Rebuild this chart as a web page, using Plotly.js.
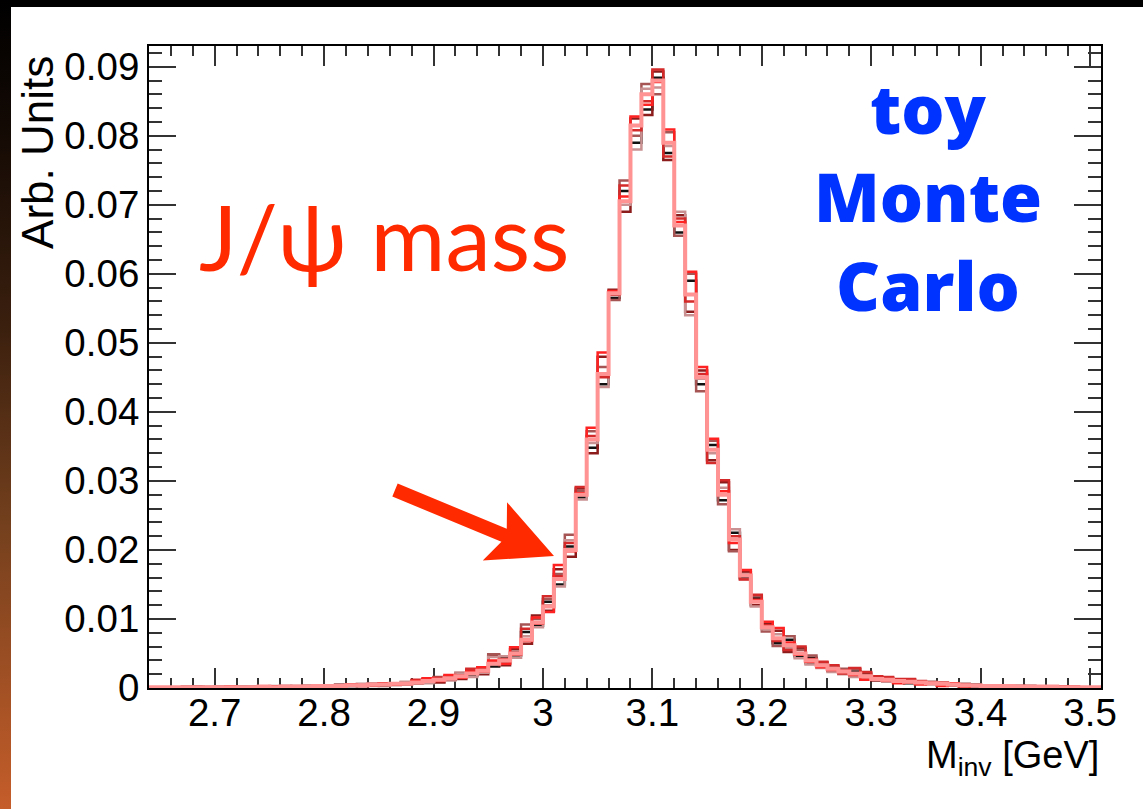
<!DOCTYPE html>
<html>
<head>
<meta charset="utf-8">
<script src="https://cdn.plot.ly/plotly-3.0.1.min.js"></script>
<style>
html,body{margin:0;padding:0;background:#000;width:1143px;height:809px;overflow:hidden;}
#strip{position:absolute;left:0;top:0;width:11px;height:809px;background:linear-gradient(to bottom,#000 0%,#120904 15%,#3a1f0e 40%,#74401d 65%,#c55d2a 100%);}
#white{position:absolute;left:11px;top:7px;width:1132px;height:802px;background:#fff;}
#chart{position:absolute;left:0;top:0;width:1143px;height:809px;}
</style>
</head>
<body>
<div id="strip"></div>
<div id="white"></div>
<div id="chart"></div>
<script>
// Histogram binning (GeV)
const binStart = 2.64;
const binWidth = 0.01;

// Bin contents (Arb. Units) for the overlaid toy MC samples, bins 2.64 ... 3.50
const sampleBlack = [0,0.0001,0,0.0001,0.0001,0,0.0001,0.0001,0.0002,0.0001,0.0001,0.0002,0.0001,0.0002,0.0003,0.0002,
 0.0003,0.0004,0.0003,0.0005,0.0004,0.0006,0.0005,0.0007,0.0009,
 0.0009,0.0013,0.0012,0.0019,0.0018,0.0027,0.0031,0.0044,0.0047,0.0081,0.0090,0.0125,0.0150,0.0205,0.0276,0.0348,0.0440,0.0565,0.0720,0.0790,0.0838,0.0884,0.0775,0.0660,0.0590,0.0440,0.0352,0.0272,0.0225,0.0160,0.0130,0.0090,0.0065,0.0070,0.0046,0.0044,0.0031,0.0030,0.0022,0.0024,0.0015,0.0015,0.0010,0.0011,0.0007,0.0009,0.0006,0.0005,0.0006,0.0003,
 0.0005,0.0002,0.0004,0.0002,0.0003,0.0001,0.0002,0.0001,0.0002,0.0001,0,0.0001];
const sampleDarkRed = [0.0001,0,0.0001,0,0.0002,0.0001,0,0.0002,0.0001,0.0002,0.0001,0.0001,0.0003,0.0001,0.0002,0.0003,
 0.0004,0.0002,0.0005,0.0003,0.0006,0.0004,0.0007,0.0005,0.0011,
 0.0013,0.0008,0.0017,0.0013,0.0026,0.0020,0.0047,0.0033,0.0056,0.0064,0.0105,0.0112,0.0172,0.0190,0.0289,0.0340,0.0480,0.0577,0.0690,0.0825,0.0830,0.0893,0.0765,0.0685,0.0545,0.0460,0.0330,0.0298,0.0200,0.0168,0.0120,0.0094,0.0083,0.0052,0.0058,0.0036,0.0037,0.0025,0.0027,0.0018,0.0021,0.0011,0.0014,0.0008,0.0012,0.0006,0.0008,0.0004,0.0006,0.0005,
 0.0003,0.0004,0.0002,0.0003,0.0001,0.0003,0.0001,0.0002,0.0001,0.0001,0.0001,0];
const sampleBrown = [0,0.0001,0.0001,0.0002,0,0.0001,0.0002,0.0001,0.0001,0.0002,0.0002,0.0001,0.0002,0.0003,0.0002,0.0002,
 0.0002,0.0005,0.0004,0.0004,0.0005,0.0003,0.0006,0.0008,0.0006,
 0.0011,0.0016,0.0015,0.0022,0.0023,0.0029,0.0049,0.0037,0.0052,0.0092,0.0100,0.0129,0.0165,0.0222,0.0285,0.0372,0.0465,0.0562,0.0735,0.0800,0.0875,0.0860,0.0805,0.0655,0.0600,0.0430,0.0358,0.0266,0.0198,0.0158,0.0133,0.0082,0.0061,0.0075,0.0055,0.0047,0.0035,0.0032,0.0028,0.0027,0.0019,0.0016,0.0015,0.0012,0.0012,0.0009,0.0009,0.0007,0.0004,0.0006,
 0.0003,0.0003,0.0004,0.0002,0.0002,0.0003,0.0002,0.0001,0.0002,0.0001,0.0001,0.0001];
const sampleGreyPink = [0.0001,0.0001,0,0.0001,0.0001,0.0002,0.0001,0,0.0002,0.0002,0.0001,0.0003,0.0002,0.0001,0.0003,0.0003,
 0.0004,0.0003,0.0003,0.0006,0.0003,0.0005,0.0004,0.0009,0.0007,
 0.0007,0.0014,0.0011,0.0021,0.0016,0.0022,0.0045,0.0046,0.0044,0.0075,0.0088,0.0120,0.0147,0.0214,0.0273,0.0355,0.0436,0.0569,0.0700,0.0780,0.0868,0.0870,0.0785,0.0690,0.0540,0.0448,0.0340,0.0290,0.0230,0.0165,0.0118,0.0085,0.0078,0.0058,0.0043,0.0034,0.0029,0.0023,0.0020,0.0016,0.0013,0.0012,0.0009,0.0009,0.0010,0.0007,0.0005,0.0006,0.0005,0.0004,
 0.0002,0.0003,0.0002,0.0003,0.0002,0.0001,0.0002,0.0002,0.0001,0,0.0001,0.0001];
const sampleCrimson = [0,0.0001,0.0001,0,0.0001,0.0001,0.0001,0.0001,0.0001,0.0001,0.0001,0.0002,0.0002,0.0002,0.0003,0.0002,
 0.0003,0.0004,0.0004,0.0003,0.0005,0.0007,0.0005,0.0007,0.0012,
 0.0010,0.0015,0.0013,0.0018,0.0028,0.0024,0.0038,0.0042,0.0048,0.0086,0.0093,0.0133,0.0162,0.0210,0.0291,0.0365,0.0450,0.0570,0.0728,0.0808,0.0850,0.0896,0.0770,0.0680,0.0560,0.0455,0.0326,0.0301,0.0220,0.0157,0.0135,0.0091,0.0068,0.0055,0.0060,0.0042,0.0038,0.0033,0.0021,0.0029,0.0023,0.0017,0.0016,0.0013,0.0013,0.0010,0.0008,0.0008,0.0004,0.0005,
 0.0003,0.0003,0.0002,0.0004,0.0002,0.0002,0.0002,0.0001,0.0001,0.0002,0.0001,0.0001];
const sampleRed = [0.0001,0,0.0001,0.0001,0,0.0001,0.0001,0.0002,0,0.0001,0.0002,0.0002,0.0001,0.0002,0.0001,0.0004,
 0.0002,0.0003,0.0005,0.0004,0.0004,0.0006,0.0005,0.0006,0.0010,
 0.0014,0.0010,0.0019,0.0015,0.0024,0.0030,0.0040,0.0035,0.0059,0.0068,0.0102,0.0110,0.0178,0.0198,0.0282,0.0377,0.0486,0.0575,0.0712,0.0828,0.0845,0.0878,0.0809,0.0675,0.0603,0.0465,0.0361,0.0285,0.0210,0.0171,0.0128,0.0096,0.0087,0.0066,0.0048,0.0038,0.0030,0.0026,0.0025,0.0019,0.0012,0.0014,0.0011,0.0007,0.0008,0.0005,0.0007,0.0003,0.0007,0.0002,
 0.0004,0.0002,0.0003,0.0001,0.0003,0.0002,0.0001,0.0001,0.0002,0.0001,0.0001,0];
const samplePink = [0.0001,0.0001,0.0001,0.0001,0.0001,0.0001,0.0001,0.0001,0.0001,0.0001,0.0002,0.0001,0.0002,0.0002,0.0002,0.0003,
 0.0003,0.0003,0.0004,0.0004,0.0005,0.0005,0.0006,0.0006,0.0008,
 0.0010,0.0012,0.0014,0.0017,0.0021,0.0025,0.0035,0.0040,0.0050,0.0070,0.0095,0.0118,0.0158,0.0200,0.0280,0.0360,0.0455,0.0572,0.0705,0.0815,0.0860,0.0880,0.0790,0.0670,0.0570,0.0450,0.0345,0.0280,0.0215,0.0163,0.0125,0.0088,0.0072,0.0062,0.0050,0.0040,0.0033,0.0028,0.0024,0.0021,0.0017,0.0013,0.0012,0.0010,0.0009,0.0008,0.0007,0.0006,0.0005,0.0004,
 0.0004,0.0003,0.0003,0.0003,0.0002,0.0002,0.0002,0.0002,0.0001,0.0001,0.0001,0.0001];

const xTitle = 'M<sub>inv</sub> [GeV]';
const yTitle = 'Arb. Units';
const labelMass = 'J/ψ mass';
const labelToy = 'toy<br>Monte<br>Carlo';

const samples = [
  {y: sampleBlack, color: '#111111', w: 2.5},
  {y: sampleDarkRed, color: '#8c1c1c', w: 2.5},
  {y: sampleBrown, color: '#a65454', w: 2.5},
  {y: sampleGreyPink, color: '#c99191', w: 2.5},
  {y: sampleCrimson, color: '#d42a2a', w: 2.5},
  {y: sampleRed, color: '#ff2222', w: 2.5},
  {y: samplePink, color: '#ff9393', w: 4}
];

const nBins = samplePink.length;
const edges = [];
for (let i = 0; i <= nBins; i++) edges.push(+(binStart + i * binWidth).toFixed(2));

const traces = samples.map(s => ({
  type: 'scatter', mode: 'lines',
  x: edges,
  y: s.y.concat([s.y[s.y.length - 1]]),
  line: {shape: 'hv', color: s.color, width: s.w},
  hoverinfo: 'skip', showlegend: false
}));

const tickFont = {family: 'Liberation Sans, Arial, Helvetica, sans-serif', size: 38.5, color: '#000'};

const layout = {
  width: 1143, height: 809,
  margin: {l: 149, r: 42, t: 46, b: 121, pad: 0},
  paper_bgcolor: 'rgba(0,0,0,0)',
  plot_bgcolor: '#ffffff',
  showlegend: false,
  xaxis: {
    range: [2.64, 3.51], dtick: 0.1, tick0: 0,
    ticks: 'inside', ticklen: 20, tickwidth: 2, tickcolor: '#333',
    showline: true, linecolor: '#000', linewidth: 2, mirror: 'allticks',
    showgrid: false, zeroline: false, layer: 'below traces',
    tickfont: tickFont, ticklabelstandoff: -10,
    minor: {dtick: 0.02, ticks: 'inside', ticklen: 10, tickwidth: 2, tickcolor: '#333', showgrid: false}
  },
  yaxis: {
    range: [0, 0.093], dtick: 0.01, tick0: 0,
    ticks: 'inside', ticklen: 27, tickwidth: 2, tickcolor: '#333',
    showline: true, linecolor: '#000', linewidth: 2, mirror: 'allticks',
    showgrid: false, zeroline: false, layer: 'below traces',
    tickfont: tickFont,
    minor: {dtick: 0.002, ticks: 'inside', ticklen: 13, tickwidth: 2, tickcolor: '#333', showgrid: false}
  },
  shapes: [
    {type: 'path', xref: 'paper', yref: 'paper', layer: 'above',
     path: 'M0.2612,0.3185 L0.3758,0.2480 L0.3761,0.2893 L0.4254,0.2056 L0.3506,0.1986 L0.3702,0.2277 L0.2556,0.2983 Z',
     fillcolor: '#ff2a00', line: {width: 0}}
  ],
  annotations: [
    {text: yTitle, xref: 'paper', yref: 'paper', x: -0.1165, y: 0.987, xanchor: 'center', yanchor: 'top',
     textangle: -90, showarrow: false, font: {family: 'Liberation Sans, Arial, sans-serif', size: 44, color: '#000'}},
    {text: xTitle, xref: 'paper', yref: 'paper', x: 1.0, y: -0.068, xanchor: 'right', yanchor: 'top',
     showarrow: false, font: {family: 'Liberation Sans, Arial, sans-serif', size: 38, color: '#000'}},
    {text: labelMass, xref: 'paper', yref: 'paper', x: 0.05, y: 0.705, xanchor: 'left', yanchor: 'middle',
     showarrow: false, font: {family: 'Lato, Open Sans, sans-serif', size: 91, color: '#ff2a00'}},
    {text: labelToy, xref: 'paper', yref: 'paper', x: 0.818, y: (688 - 196) / 642, xanchor: 'center', yanchor: 'middle',
     showarrow: false, font: {family: 'Open Sans, Lato, sans-serif', size: 68, color: '#0033ff', weight: 800}}
  ]
};

Plotly.newPlot('chart', traces, layout, {displayModeBar: false, staticPlot: true});
</script>
</body>
</html>
